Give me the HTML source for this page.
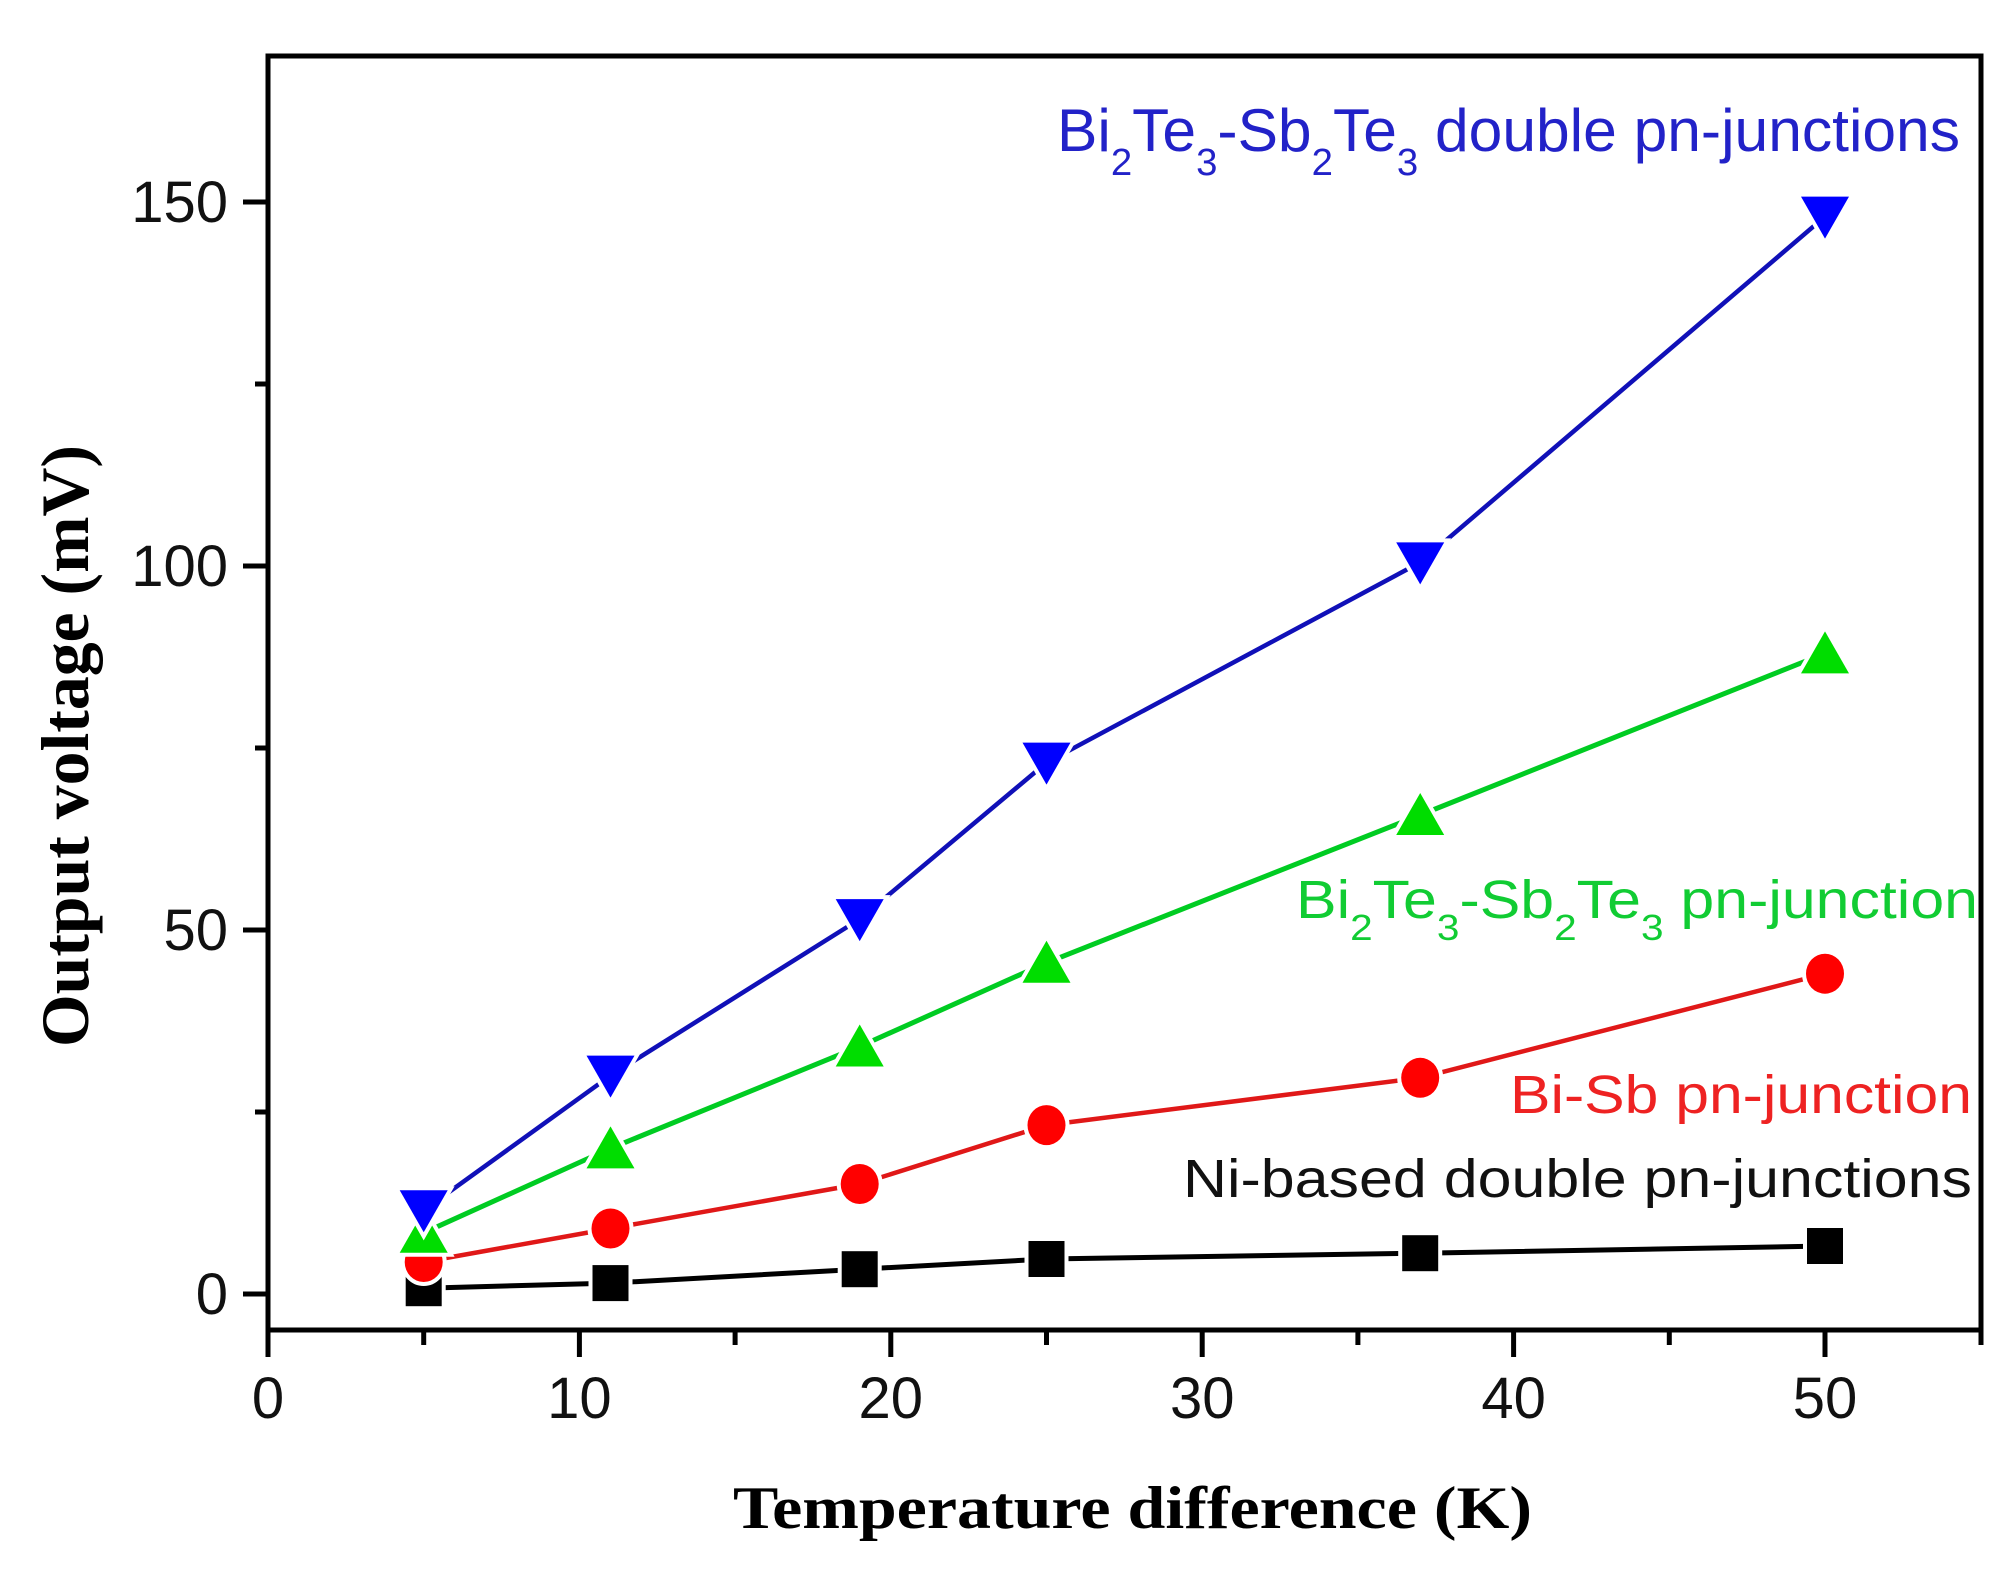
<!DOCTYPE html>
<html><head><meta charset="utf-8"><style>
html,body{margin:0;padding:0;background:#fff;}
svg{display:block;}
</style></head><body>
<svg width="2015" height="1583" viewBox="0 0 2015 1583" xmlns="http://www.w3.org/2000/svg">
<rect width="2015" height="1583" fill="#fff"/>
<!-- lines -->
<polyline points="423.7,1288.2 610.5,1283.1 859.7,1269.2 1046.5,1259 1420.2,1253.2 1825,1246" fill="none" stroke="#000" stroke-width="5"/>
<polyline points="423.7,1262 610.5,1228.5 859.7,1184 1046.5,1125.1 1420.2,1077.8 1825,973.7" fill="none" stroke="#e01818" stroke-width="4.5"/>
<polyline points="423.7,1232.8 610.5,1148.4 859.7,1046.5 1046.5,962.8 1420.2,815 1825,653.4" fill="none" stroke="#00cc22" stroke-width="5"/>
<polyline points="423.7,1210.3 610.5,1075.6 859.7,919.1 1046.5,762.6 1420.2,562.4 1825,216.6" fill="none" stroke="#1010b8" stroke-width="4.5"/>
<!-- markers -->
<g stroke="#fff" stroke-width="8" paint-order="stroke">
<g fill="#000">
<rect x="405.7" y="1270.2" width="36" height="36"/>
<rect x="592.5" y="1265.1" width="36" height="36"/>
<rect x="841.7" y="1251.2" width="36" height="36"/>
<rect x="1028.5" y="1241" width="36" height="36"/>
<rect x="1402.2" y="1235.2" width="36" height="36"/>
<rect x="1807" y="1228" width="36" height="36"/>
</g>
<g fill="#ff0000">
<ellipse cx="423.7" cy="1262" rx="19" ry="20"/>
<ellipse cx="610.5" cy="1228.5" rx="19" ry="20"/>
<ellipse cx="859.7" cy="1184" rx="19" ry="20"/>
<ellipse cx="1046.5" cy="1125.1" rx="19" ry="20"/>
<ellipse cx="1420.2" cy="1077.8" rx="19" ry="20"/>
<ellipse cx="1825" cy="973.7" rx="19" ry="20"/>
</g>
<g fill="#00dd00">
<polygon points="399.7,1252.8 447.7,1252.8 423.7,1210.8"/>
<polygon points="586.5,1168.4 634.5,1168.4 610.5,1126.4"/>
<polygon points="835.7,1066.5 883.7,1066.5 859.7,1024.5"/>
<polygon points="1022.5,982.8 1070.5,982.8 1046.5,940.8"/>
<polygon points="1396.2,835 1444.2,835 1420.2,793"/>
<polygon points="1801,673.4 1849,673.4 1825,631.4"/>
</g>
<g fill="#0000ff">
<polygon points="399.7,1190.3 447.7,1190.3 423.7,1232.3"/>
<polygon points="586.5,1055.6 634.5,1055.6 610.5,1097.6"/>
<polygon points="835.7,899.1 883.7,899.1 859.7,941.1"/>
<polygon points="1022.5,742.6 1070.5,742.6 1046.5,784.6"/>
<polygon points="1396.2,542.4 1444.2,542.4 1420.2,584.4"/>
<polygon points="1801,196.6 1849,196.6 1825,238.6"/>
</g>
</g>
<!-- frame -->
<rect x="268" y="56" width="1713" height="1274" fill="none" stroke="#000" stroke-width="5"/>
<g stroke="#000" stroke-width="5">
<line x1="268" y1="1332" x2="268" y2="1357"/>
<line x1="579.4" y1="1332" x2="579.4" y2="1357"/>
<line x1="890.8" y1="1332" x2="890.8" y2="1357"/>
<line x1="1202.2" y1="1332" x2="1202.2" y2="1357"/>
<line x1="1513.6" y1="1332" x2="1513.6" y2="1357"/>
<line x1="1825" y1="1332" x2="1825" y2="1357"/>
<line x1="1981" y1="1332" x2="1981" y2="1345"/>
<line x1="423.7" y1="1332" x2="423.7" y2="1345"/>
<line x1="735.1" y1="1332" x2="735.1" y2="1345"/>
<line x1="1046.5" y1="1332" x2="1046.5" y2="1345"/>
<line x1="1357.9" y1="1332" x2="1357.9" y2="1345"/>
<line x1="1669.3" y1="1332" x2="1669.3" y2="1345"/>
<line x1="243" y1="1294" x2="266" y2="1294"/>
<line x1="243" y1="930" x2="266" y2="930"/>
<line x1="243" y1="566" x2="266" y2="566"/>
<line x1="243" y1="202" x2="266" y2="202"/>
<line x1="255" y1="1112" x2="266" y2="1112"/>
<line x1="255" y1="748" x2="266" y2="748"/>
<line x1="255" y1="384" x2="266" y2="384"/>
</g>
<g font-family="'Liberation Sans',sans-serif" font-size="58" fill="#111" text-anchor="middle">
<text x="268" y="1418">0</text>
<text x="579.4" y="1418">10</text>
<text x="890.8" y="1418">20</text>
<text x="1202.2" y="1418">30</text>
<text x="1513.6" y="1418">40</text>
<text x="1825" y="1418">50</text>
</g>
<g font-family="'Liberation Sans',sans-serif" font-size="58" fill="#111" text-anchor="end">
<text x="228" y="1314">0</text>
<text x="228" y="950">50</text>
<text x="228" y="586">100</text>
<text x="228" y="222">150</text>
</g>
<text x="733" y="1528" font-family="'Liberation Serif',serif" font-weight="bold" font-size="60" textLength="799" lengthAdjust="spacingAndGlyphs">Temperature difference (K)</text>
<text transform="translate(88,1047) rotate(-90)" font-family="'Liberation Serif',serif" font-weight="bold" font-size="68" textLength="602" lengthAdjust="spacingAndGlyphs">Output voltage (mV)</text>
<g font-family="'Liberation Sans',sans-serif">
<text x="1057" y="151" font-size="60" fill="#2222c8" textLength="903" lengthAdjust="spacingAndGlyphs">Bi<tspan font-size="38" dy="24">2</tspan><tspan dy="-24">Te</tspan><tspan font-size="38" dy="24">3</tspan><tspan dy="-24">-Sb</tspan><tspan font-size="38" dy="24">2</tspan><tspan dy="-24">Te</tspan><tspan font-size="38" dy="24">3</tspan><tspan dy="-24"> double pn-junctions</tspan></text>
<text x="1296" y="918" font-size="54" fill="#11cc33" textLength="682" lengthAdjust="spacingAndGlyphs">Bi<tspan font-size="36" dy="22">2</tspan><tspan dy="-22">Te</tspan><tspan font-size="36" dy="22">3</tspan><tspan dy="-22">-Sb</tspan><tspan font-size="36" dy="22">2</tspan><tspan dy="-22">Te</tspan><tspan font-size="36" dy="22">3</tspan><tspan dy="-22"> pn-junction</tspan></text>
<text x="1510" y="1113" font-size="54" fill="#ee2222" textLength="462" lengthAdjust="spacingAndGlyphs">Bi-Sb pn-junction</text>
<text x="1183" y="1197" font-size="54" fill="#111" textLength="789" lengthAdjust="spacingAndGlyphs">Ni-based double pn-junctions</text>
</g>
</svg>
</body></html>
